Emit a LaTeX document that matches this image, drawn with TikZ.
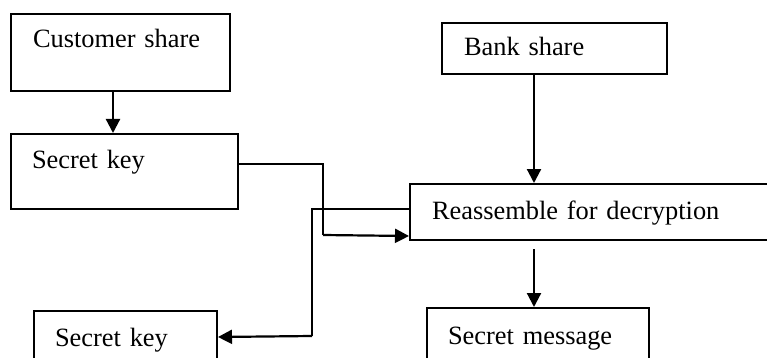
\documentclass[tikz,border=0pt]{standalone}
\usepackage{fontspec}
\setmainfont{Liberation Serif}
\usetikzlibrary{arrows.meta,calc}
\tikzset{
  box/.style={draw, line width=2pt, rectangle, inner ysep=0pt, align=left,
    font=\fontsize{26.4}{30}\selectfont, anchor=north west},
  arr/.style={line width=2.2pt, -{Triangle[length=14pt,width=14pt]}},
  wire/.style={line width=2.2pt}
}
\begin{document}
\begin{tikzpicture}[x=1pt,y=-1pt]
\useasboundingbox (0,0) rectangle (767,358);
\clip (0,0) rectangle (767,358);
% boxes: width, height, left padding and baseline set per box
\node[box, inner xsep=22pt, text width=175pt, text height=34pt, text depth=43pt] (cust) at (10,13) {Customer share};
\node[box, inner xsep=21pt, text width=185pt, text height=34pt, text depth=41pt] (sk1) at (10,133) {Secret key};
\node[box, inner xsep=22pt, text width=181pt, text height=33pt, text depth=18pt] (bank) at (441,22) {Bank share};
\node[box, inner xsep=22pt, text width=346pt, text height=35pt, text depth=21pt] (reas) at (409,183) {Reassemble for decryption};
\node[box, inner xsep=21pt, text width=141pt, text height=35pt, text depth=30pt] (sk2) at (33,310) {Secret key};
\node[box, inner xsep=21pt, text width=180pt, text height=36pt, text depth=32pt] (msg) at (426,307) {Secret message};
% junction points of the elbow connectors
\coordinate (j1) at (323,235);
\coordinate (j2) at (312,336);
% connectors
\draw[arr] ([xshift=103pt]cust.south west) -- ([xshift=103pt]sk1.north west);
\draw[wire] ([yshift=7.5pt]sk1.east) -| (j1);
\draw[arr] (j1) -- ([yshift=-24pt]reas.west);
\draw[wire] ([yshift=3pt]reas.west) -| (j2);
\draw[arr] (j2) -- ([yshift=6.5pt]sk2.east);
\draw[arr] ([xshift=93pt]bank.south west) -- ([xshift=125pt]reas.north west);
\draw[arr] ([xshift=125pt,yshift=-8pt]reas.south west) -- ([xshift=108pt]msg.north west);
\end{tikzpicture}
\end{document}
